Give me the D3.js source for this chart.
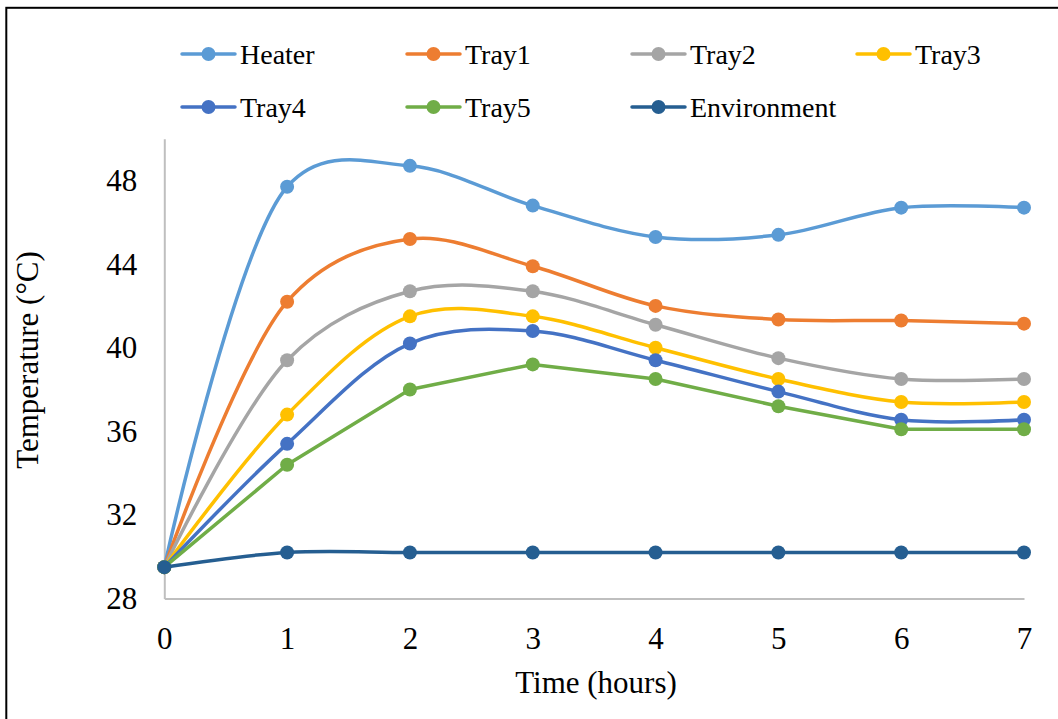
<!DOCTYPE html>
<html>
<head>
<meta charset="utf-8">
<script src="https://cdn.jsdelivr.net/npm/d3@7"></script>
<style>
  html, body { margin: 0; padding: 0; background: #fff; }
  svg { display: block; }
  text { font-family: "Liberation Serif", "Times New Roman", serif; fill: #000; }
</style>
</head>
<body>
<svg id="chart" width="1058" height="719"></svg>
<script>
// Temperature readings over time (°C)
const hours = [0, 1, 2, 3, 4, 5, 6, 7];
const heater      = [29.5, 47.7, 48.7, 46.8, 45.3, 45.4, 46.7, 46.7];
const tray1       = [29.5, 42.2, 45.2, 43.9, 42.0, 41.35, 41.3, 41.15];
const tray2       = [29.5, 39.4, 42.7, 42.7, 41.1, 39.5, 38.5, 38.5];
const tray3       = [29.5, 36.8, 41.5, 41.5, 40.0, 38.5, 37.4, 37.4];
const tray4       = [29.5, 35.4, 40.2, 40.8, 39.4, 37.9, 36.55, 36.55];
const tray5       = [29.5, 34.4, 38.0, 39.2, 38.5, 37.2, 36.1, 36.1];
const environment = [29.5, 30.2, 30.2, 30.2, 30.2, 30.2, 30.2, 30.2];
const yTicks = [28, 32, 36, 40, 44, 48];

const series = [
  { name: "Heater",      values: heater,      color: "#5B9BD5", smooth: true },
  { name: "Tray1",       values: tray1,       color: "#ED7D31", smooth: true },
  { name: "Tray2",       values: tray2,       color: "#A5A5A5", smooth: true },
  { name: "Tray3",       values: tray3,       color: "#FFC000", smooth: true },
  { name: "Tray4",       values: tray4,       color: "#4472C4", smooth: true },
  { name: "Tray5",       values: tray5,       color: "#70AD47", smooth: false },
  { name: "Environment", values: environment, color: "#255E91", smooth: true }
];

const svg = d3.select("#chart");
const serif = '"Liberation Serif", "Times New Roman", serif';

// outer frame
svg.append("rect")
  .attr("x", 6.3).attr("y", 7.8)
  .attr("width", 1100).attr("height", 800)
  .attr("fill", "none").attr("stroke", "#000").attr("stroke-width", 2);

const plot = { left: 164.3, right: 1024, top: 138.7, bottom: 598.5 };

const x = d3.scaleLinear().domain([0, 7]).range([plot.left, plot.right]);
const y = d3.scaleLinear().domain([28, 50]).range([plot.bottom, plot.top]);

// axes
const xAxis = svg.append("g")
  .attr("transform", `translate(0,${plot.bottom})`)
  .call(d3.axisBottom(x).tickValues(hours).tickSize(0).tickPadding(28).tickFormat(d3.format("d")));
const yAxis = svg.append("g")
  .attr("transform", `translate(${plot.left},0)`)
  .call(d3.axisLeft(y).tickValues(yTicks).tickSize(0).tickPadding(27).tickFormat(d3.format("d")));

[xAxis, yAxis].forEach(g => {
  g.attr("font-family", serif);
  g.select(".domain").attr("stroke", "#BFBFBF").attr("stroke-width", 2);
  g.selectAll("text").style("font-family", serif)
    .style("font-size", "31px").attr("fill", "#000");
});

// axis titles
svg.append("text")
  .attr("x", 596).attr("y", 693)
  .attr("text-anchor", "middle")
  .style("font-family", serif)
  .style("font-size", "31px")
  .text("Time (hours)");
svg.append("text")
  .attr("transform", "translate(38,360) rotate(-90)")
  .attr("text-anchor", "middle")
  .style("font-family", serif)
  .style("font-size", "31px")
  .text("Temperature (°C)");

// series lines and markers
const smoothLine = d3.line()
  .x((d, i) => x(hours[i]))
  .y(d => y(d))
  .curve(d3.curveCatmullRom.alpha(0.3));
const straightLine = d3.line()
  .x((d, i) => x(hours[i]))
  .y(d => y(d));

series.forEach(s => {
  const g = svg.append("g");
  g.append("path")
    .attr("d", (s.smooth ? smoothLine : straightLine)(s.values))
    .attr("fill", "none")
    .attr("stroke", s.color)
    .attr("stroke-width", 3.5)
    .attr("stroke-linejoin", "round");
  g.selectAll("circle")
    .data(s.values)
    .join("circle")
    .attr("cx", (d, i) => x(hours[i]))
    .attr("cy", d => y(d))
    .attr("r", 7)
    .attr("fill", s.color);
});

// legend
const legendCols = [182, 407, 632, 857];
const legendRows = [54, 107];
series.forEach((s, i) => {
  const lx = legendCols[i % 4];
  const ly = legendRows[Math.floor(i / 4)];
  const g = svg.append("g").attr("transform", `translate(${lx},${ly})`);
  g.append("line")
    .attr("x1", 0).attr("x2", 53).attr("y1", 0).attr("y2", 0)
    .attr("stroke", s.color).attr("stroke-width", 3.5).attr("stroke-linecap", "round");
  g.append("circle").attr("cx", 26.5).attr("cy", 0).attr("r", 7).attr("fill", s.color);
  g.append("text")
    .attr("x", 58).attr("y", 9.5)
    .style("font-family", serif)
    .style("font-size", "28px")
    .text(s.name);
});
</script>
</body>
</html>
